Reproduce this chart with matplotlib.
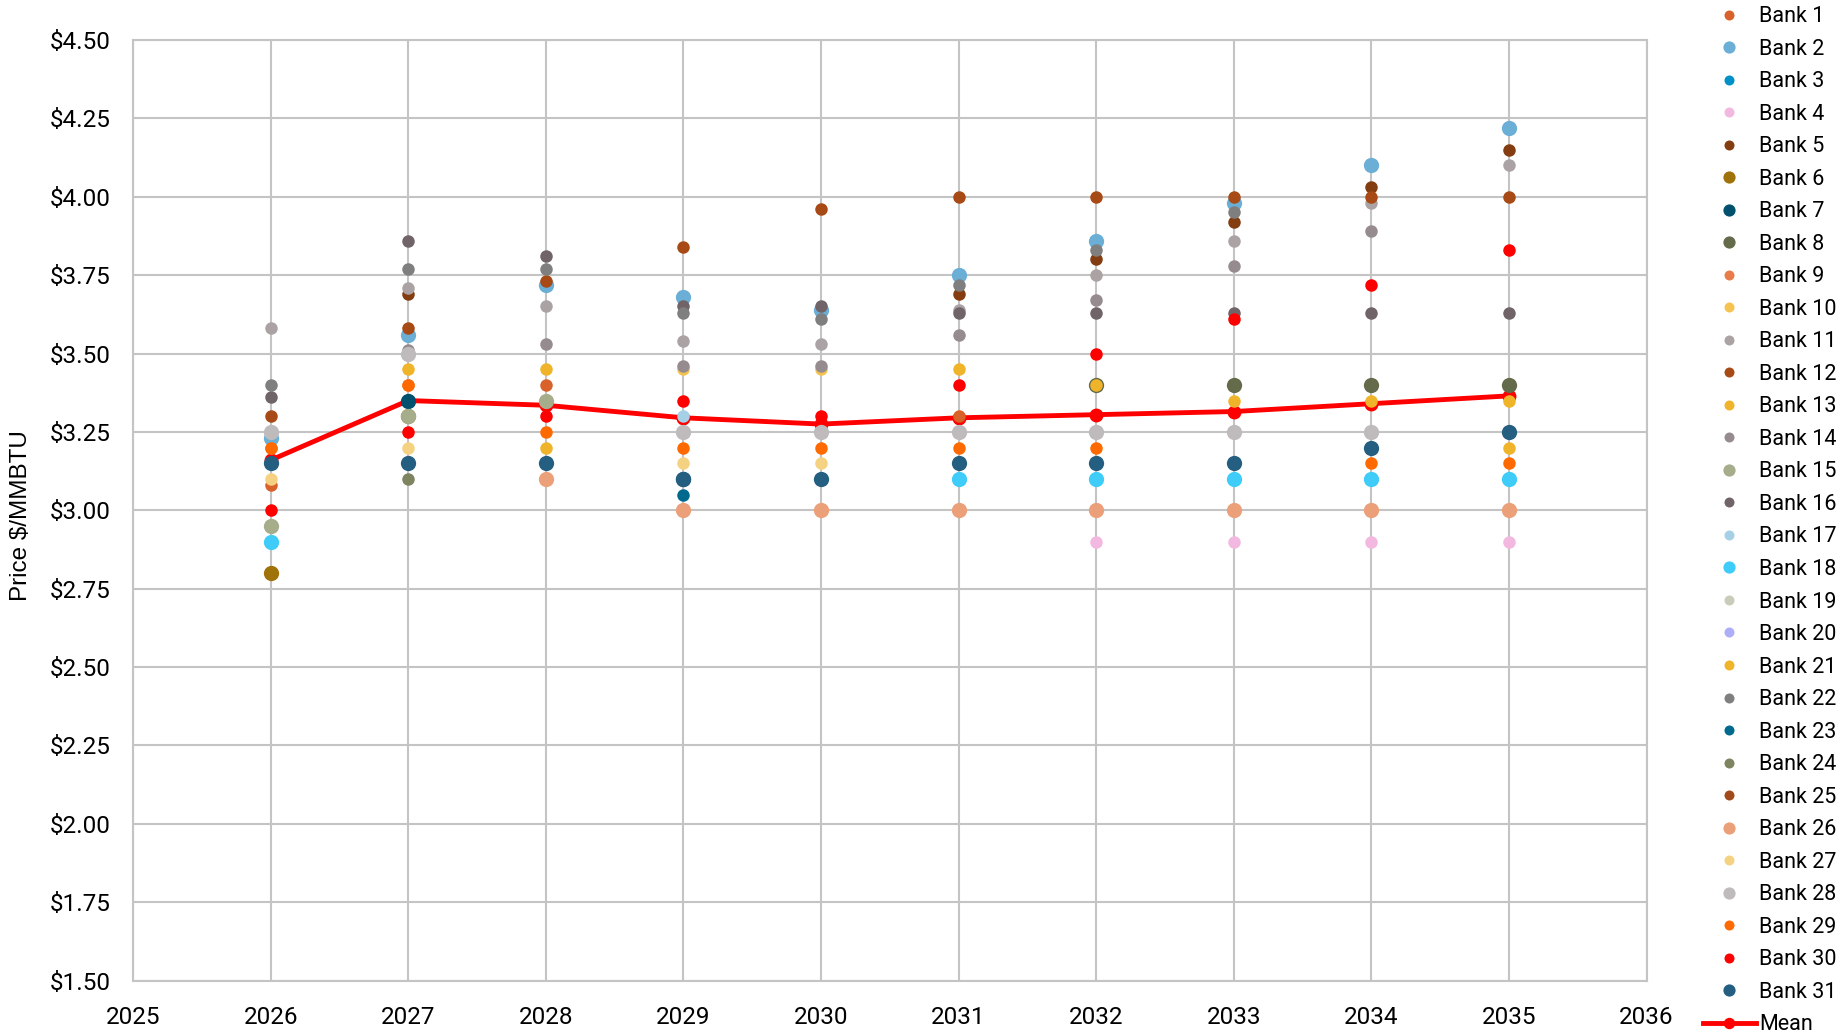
import numpy as np
import matplotlib
matplotlib.use("Agg")
import matplotlib.pyplot as plt
from matplotlib.ticker import FuncFormatter, MultipleLocator

n = np.nan
years = [2026, 2027, 2028, 2029, 2030, 2031, 2032, 2033, 2034, 2035]

# price forecasts per bank, $/MMBTU (nan = no forecast shown)
bank_1 = [3.08, n, 3.40, n, n, 3.30, n, n, n, n]
bank_2 = [3.23, 3.56, 3.72, 3.68, 3.64, 3.75, 3.86, 3.98, 4.10, 4.22]
bank_3 = [n, n, n, n, n, n, n, n, n, n]
bank_4 = [n, n, n, n, n, n, 2.90, 2.90, 2.90, 2.90]
bank_5 = [n, 3.69, n, n, n, 3.69, 3.80, 3.92, 4.03, 4.15]
bank_6 = [2.80, 3.30, n, n, n, n, n, n, n, n]
bank_7 = [n, 3.35, n, 3.10, n, n, n, n, n, n]
bank_8 = [n, n, n, n, n, n, 3.40, 3.40, 3.40, 3.40]
bank_9 = [3.20, 3.40, n, n, n, n, n, n, n, n]
bank_10 = [n, n, n, 3.45, 3.45, n, n, n, n, n]
bank_11 = [3.58, 3.71, 3.65, 3.54, 3.53, 3.64, 3.75, 3.86, 3.98, 4.10]
bank_12 = [3.30, 3.58, 3.73, 3.84, 3.96, 4.00, 4.00, 4.00, 4.00, 4.00]
bank_13 = [n, 3.45, 3.45, n, n, 3.45, 3.40, 3.35, 3.35, 3.35]
bank_14 = [n, 3.51, 3.53, 3.46, 3.46, 3.56, 3.67, 3.78, 3.89, n]
bank_15 = [2.95, 3.30, 3.35, n, n, n, n, n, n, n]
bank_16 = [3.36, 3.86, 3.81, 3.65, 3.65, 3.63, 3.63, 3.63, 3.63, 3.63]
bank_17 = [n, n, n, 3.30, n, n, n, n, n, n]
bank_18 = [2.90, n, n, n, n, 3.10, 3.10, 3.10, 3.10, 3.10]
bank_19 = [n, n, n, n, n, n, n, n, n, n]
bank_20 = [n, n, n, n, n, n, n, n, n, n]
bank_21 = [n, n, 3.20, n, n, n, n, n, n, 3.20]
bank_22 = [3.40, 3.77, 3.77, 3.63, 3.61, 3.72, 3.83, 3.95, n, n]
bank_23 = [n, n, n, 3.05, n, n, n, n, n, n]
bank_24 = [n, 3.10, n, n, n, n, n, n, n, n]
bank_25 = [n, n, n, n, n, n, n, n, n, n]
bank_26 = [n, n, 3.10, 3.00, 3.00, 3.00, 3.00, 3.00, 3.00, 3.00]
bank_27 = [3.10, 3.20, n, 3.15, 3.15, n, n, n, n, n]
bank_28 = [3.25, 3.50, n, 3.25, 3.25, 3.25, 3.25, 3.25, 3.25, n]
bank_29 = [3.20, 3.40, 3.25, 3.20, 3.20, 3.20, 3.20, n, 3.15, 3.15]
bank_30 = [3.00, 3.25, 3.30, 3.35, 3.30, 3.40, 3.50, 3.61, 3.72, 3.83]
bank_31 = [3.15, 3.15, 3.15, 3.10, 3.10, 3.15, 3.15, 3.15, 3.20, 3.25]
mean = [3.16, 3.35, 3.335, 3.295, 3.275, 3.295, 3.305, 3.315, 3.34, 3.365]

banks = [bank_1, bank_2, bank_3, bank_4, bank_5, bank_6, bank_7, bank_8,
         bank_9, bank_10, bank_11, bank_12, bank_13, bank_14, bank_15, bank_16,
         bank_17, bank_18, bank_19, bank_20, bank_21, bank_22, bank_23, bank_24,
         bank_25, bank_26, bank_27, bank_28, bank_29, bank_30, bank_31]

colors = ["#D9622B", "#6BAED6", "#0090C8", "#F2B8E0", "#843C11", "#A0720A",
          "#00506E", "#636B4A", "#E87D4A", "#F5C350", "#ABA3A3", "#A84A15",
          "#F0B42A", "#968C90", "#A5AD8A", "#706468", "#A6D0E6", "#3FCCF8",
          "#C9CCB9", "#AEAEF8", "#F0B42A", "#7F7F7F", "#006A8E", "#7E8460",
          "#A34A1A", "#EBA07A", "#F5D282", "#BFBABC", "#FF6A00", "#FF0000",
          "#245E80"]
big = {2, 6, 7, 8, 15, 18, 26, 28, 31}

plt.rcParams['font.family'] = ['Roboto', 'DejaVu Sans']

fig = plt.figure(figsize=(18.48, 10.33), dpi=100)
ax = fig.add_axes([0.072, 0.0507, 0.819, 0.9106])

handles = []
ax.plot(years, mean, color="#FF0000", lw=3.5, marker="o", ms=9, zorder=2)
for i, vals in enumerate(banks, start=1):
    ms = 11 if i in big else 9
    h, = ax.plot(years, vals, ls="none", marker="o", ms=ms,
                 color=colors[i - 1], mec="none", zorder=3, label=f"Bank {i}")
    handles.append(h)
mean_handle = plt.Line2D([], [], color="#FF0000", lw=3.5, marker="o", ms=9,
                         label="Mean")
handles.append(mean_handle)

ax.set_xlim(2025, 2036)
ax.set_ylim(1.5, 4.5)
ax.xaxis.set_major_locator(MultipleLocator(1))
ax.yaxis.set_major_locator(MultipleLocator(0.25))
ax.yaxis.set_major_formatter(FuncFormatter(lambda v, p: f"${v:.2f}"))
ax.grid(True, color="#C4C4C4", lw=1.5)
ax.set_axisbelow(True)
for s in ax.spines.values():
    s.set_color("#C4C4C4")
    s.set_linewidth(1.5)
ax.tick_params(length=0, labelsize=17.5)
ax.tick_params(axis="x", pad=18.5)
ax.tick_params(axis="y", pad=16)
ax.set_ylabel("Price $/MMBTU", fontsize=17.5, family=["Liberation Sans"])
ax.yaxis.set_label_coords(-0.067, 0.494)

fig.legend(handles=handles, loc="upper left", bbox_to_anchor=(1703 / 1848, 0.994),
           frameon=False, fontsize=15.5, labelspacing=0.535, handlelength=2.45,
           handletextpad=0.15, borderaxespad=0, borderpad=0, markerscale=0.8)

fig.savefig("out.png", dpi=100)
